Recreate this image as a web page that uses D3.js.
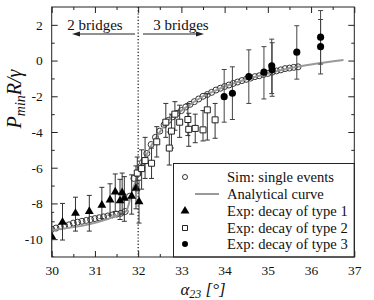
<!DOCTYPE html>
<html><head><meta charset="utf-8">
<script src="https://cdn.jsdelivr.net/npm/d3@7"></script>
<style>body{margin:0;background:#fff} text{font-family:"Liberation Serif","DejaVu Serif",serif;fill:#111}</style>
</head><body><svg id="c" width="374" height="300"></svg>
<script>
// ---- data ----
const xTicks = [30, 31, 32, 33, 34, 35, 36, 37];
const yTicks = [-10, -8, -6, -4, -2, 0, 2];
const xMinor = [30.5, 31.5, 32.5, 33.5, 34.5, 35.5, 36.5];
const yMinor = [-9, -7, -5, -3, -1, 1];

const simX = [30.0,30.1,30.2,30.3,30.4,30.5,30.6,30.7,30.8,30.9,31.0,31.1,31.2,31.3,31.4,31.5,31.6,31.7,31.8,31.9,32.0,32.1,32.2,32.3,32.4,32.5,32.6,32.7,32.8,32.9,33.0,33.1,33.2,33.3,33.4,33.5,33.6,33.7,33.8,33.9,34.0,34.1,34.2,34.3,34.4,34.5,34.6,34.7,34.8,34.9,35.0,35.1,35.2,35.3,35.4,35.5,35.6,35.7];
const simY = [-9.45,-9.38,-9.3,-9.25,-9.2,-9.1,-9.05,-9.0,-8.95,-8.9,-8.85,-8.8,-8.75,-8.7,-8.65,-8.6,-8.55,-8.45,-7.6,-6.6,-6.3,-5.7,-5.2,-4.7,-4.3,-3.95,-3.6,-3.35,-3.15,-2.95,-2.8,-2.6,-2.45,-2.3,-2.15,-2.0,-1.9,-1.78,-1.65,-1.55,-1.45,-1.37,-1.28,-1.2,-1.12,-1.05,-0.98,-0.9,-0.85,-0.78,-0.72,-0.65,-0.58,-0.52,-0.45,-0.42,-0.38,-0.35];

const curveX = [30.0, 31.72, 31.85, 32.0, 32.25, 32.5, 32.7, 33.0, 33.25, 33.5, 33.75, 34.0, 34.5, 35.0, 35.5, 36.0, 36.75];
const curveY = [-9.5, -8.45, -7.4, -6.4, -5.0, -4.0, -3.35, -2.8, -2.38, -2.0, -1.72, -1.45, -1.05, -0.72, -0.43, -0.22, 0.03];

const t1X  = [30.0, 30.25, 30.55, 30.87, 31.16, 31.35, 31.47, 31.58, 31.63, 31.68, 31.85, 31.95, 32.02];
const t1Y  = [-9.85, -9.05, -8.55, -8.45, -8.1, -7.8, -7.35, -7.85, -7.4, -7.7, -7.6, -7.15, -7.9];
const t1Lo = [-11.0, -10.05, -9.55, -9.55, -8.85, -8.65, -8.45, -8.9, -8.6, -9.0, -8.6, -8.3, -9.1];
const t1Hi = [-8.5, -8.0, -7.65, -7.55, -7.1, -6.9, -6.35, -6.65, -6.3, -6.5, -6.4, -5.9, -6.7];

const t2X  = [31.98, 32.08, 32.16, 32.31, 32.43, 32.64, 32.72, 32.77, 32.85, 32.96, 33.15, 33.17, 33.32, 33.5, 33.6, 33.78];
const t2Y  = [-6.3, -6.05, -5.6, -5.75, -4.55, -3.45, -4.9, -3.95, -3.0, -3.45, -3.3, -3.85, -3.8, -3.88, -2.76, -3.32];
const t2Lo = [-7.3, -7.2, -6.6, -6.6, -5.4, -4.3, -5.85, -4.9, -3.9, -4.3, -4.2, -4.8, -4.6, -4.5, -4.45, -4.35];
const t2Hi = [-5.4, -5.0, -4.3, -4.9, -3.7, -2.4, -4.0, -3.0, -2.3, -2.5, -2.4, -2.95, -3.0, -2.8, -1.85, -2.4];

const t3X  = [33.99, 34.18, 34.56, 34.91, 35.09, 35.1, 35.67, 36.22, 36.22];
const t3Y  = [-2.02, -1.83, -0.9, -0.65, -0.3, -0.52, 0.47, 1.31, 0.78];
const t3Lo = [-3.45, -3.3, -2.4, -2.15, -1.85, -2.0, -1.04, -0.2, -0.75];
const t3Hi = [-0.5, -0.35, 0.6, 0.78, 1.2, 1.0, 1.95, 2.8, 2.3];

const legendLabels = ["Sim: single events", "Analytical curve", "Exp: decay of type 1", "Exp: decay of type 2", "Exp: decay of type 3"];

// ---- drawing ----
const svg = d3.select('#c');
const L = 51.7, R = 354.3, T = 7, B = 257;
const x = d3.scaleLinear([30, 37], [L, R]);
const y = d3.scaleLinear([-11, 3], [B, T]);
const ink = '#222';

svg.append('defs').append('clipPath').attr('id', 'clip')
  .append('rect').attr('x', L).attr('y', T).attr('width', R - L).attr('height', B - T);

// axes
function styleAxis(g) { g.select('.domain').remove(); g.selectAll('line').attr('stroke', ink); g.selectAll('text').attr('font-size', 13.5).attr('font-family', '"Liberation Serif",serif').attr('fill', '#111'); }
svg.append('g').attr('transform', `translate(0,${B})`).call(d3.axisBottom(x).tickValues(xTicks).tickSize(-6).tickPadding(8).tickFormat(d => String(d))).call(styleAxis);
svg.append('g').attr('transform', `translate(0,${B})`).call(d3.axisBottom(x).tickValues(xMinor).tickSize(-3).tickFormat('')).call(styleAxis);
svg.append('g').attr('transform', `translate(0,${T})`).call(d3.axisTop(x).tickValues(xTicks).tickSize(-6).tickFormat('')).call(styleAxis);
svg.append('g').attr('transform', `translate(0,${T})`).call(d3.axisTop(x).tickValues(xMinor).tickSize(-3).tickFormat('')).call(styleAxis);
svg.append('g').attr('transform', `translate(${L},0)`).call(d3.axisLeft(y).tickValues(yTicks).tickSize(-6).tickPadding(9).tickFormat(d => String(d))).call(styleAxis);
svg.append('g').attr('transform', `translate(${L},0)`).call(d3.axisLeft(y).tickValues(yMinor).tickSize(-3).tickFormat('')).call(styleAxis);
svg.append('g').attr('transform', `translate(${R},0)`).call(d3.axisRight(y).tickValues(yTicks).tickSize(-6).tickFormat('')).call(styleAxis);
svg.append('g').attr('transform', `translate(${R},0)`).call(d3.axisRight(y).tickValues(yMinor).tickSize(-3).tickFormat('')).call(styleAxis);

// dotted line at 32
svg.append('line').attr('x1', x(32)).attr('x2', x(32)).attr('y1', T).attr('y2', B)
  .attr('stroke', '#111').attr('stroke-width', 1.2).attr('stroke-dasharray', '1.2,2');

// bridges annotation
svg.append('text').attr('x', 95).attr('y', 29.5).attr('text-anchor', 'middle').attr('font-size', 15).text('2 bridges');
svg.append('text').attr('x', 181).attr('y', 29.5).attr('text-anchor', 'middle').attr('font-size', 15).text('3 bridges');
svg.append('line').attr('x1', 135).attr('x2', 78).attr('y1', 34).attr('y2', 34).attr('stroke', ink).attr('stroke-width', 1);
svg.append('path').attr('d', 'M72,34 L80,31.5 L80,36.5 Z').attr('fill', ink);
svg.append('line').attr('x1', 143).attr('x2', 198).attr('y1', 34).attr('y2', 34).attr('stroke', ink).attr('stroke-width', 1);
svg.append('path').attr('d', 'M204,34 L196,31.5 L196,36.5 Z').attr('fill', ink);

const plot = svg.append('g').attr('clip-path', 'url(#clip)');

// sim circles
const sim = simX.map((v, i) => ({x: v, y: simY[i]}));
plot.append('g').selectAll('circle').data(sim).join('circle')
  .attr('cx', d => x(d.x)).attr('cy', d => y(d.y)).attr('r', 3)
  .attr('fill', 'none').attr('stroke', '#333').attr('stroke-width', 1);

// analytical curve
const curve = curveX.map((v, i) => ({x: v, y: curveY[i]}));
plot.append('path').datum(curve)
  .attr('d', d3.line().x(d => x(d.x)).y(d => y(d.y)).curve(d3.curveMonotoneX))
  .attr('fill', 'none').attr('stroke', '#999').attr('stroke-width', 2);

function errSeries(xs, ys, lo, hi, shape, barColor) {
  const data = xs.map((v, i) => ({x: v, y: ys[i], lo: lo[i], hi: hi[i]}));
  const g = plot.append('g');
  const eb = g.selectAll('g.eb').data(data).join('g');
  eb.append('line').attr('x1', d => x(d.x)).attr('x2', d => x(d.x)).attr('y1', d => y(d.lo)).attr('y2', d => y(d.hi)).attr('stroke', barColor).attr('stroke-width', 1);
  eb.append('line').attr('x1', d => x(d.x) - 2.5).attr('x2', d => x(d.x) + 2.5).attr('y1', d => y(d.lo)).attr('y2', d => y(d.lo)).attr('stroke', barColor);
  eb.append('line').attr('x1', d => x(d.x) - 2.5).attr('x2', d => x(d.x) + 2.5).attr('y1', d => y(d.hi)).attr('y2', d => y(d.hi)).attr('stroke', barColor);
  g.selectAll('path.m').data(data).join('path').attr('class', 'm')
    .attr('transform', d => `translate(${x(d.x)},${y(d.y)})`)
    .each(function () { shape(d3.select(this)); });
}
const triShape = s => s.attr('d', d3.symbol(d3.symbolTriangle, 34)()).attr('fill', '#000');
const sqShape = s => s.attr('d', 'M-3,-3H3V3H-3Z').attr('fill', '#fff').attr('stroke', '#222').attr('stroke-width', 1);
const dotShape = s => s.attr('d', d3.symbol(d3.symbolCircle, 40)()).attr('fill', '#000');

errSeries(t1X, t1Y, t1Lo, t1Hi, triShape, '#333');
errSeries(t2X, t2Y, t2Lo, t2Hi, sqShape, '#333');
errSeries(t3X, t3Y, t3Lo, t3Hi, dotShape, '#444');

// legend
const lg = svg.append('g');
lg.append('rect').attr('x', 173.5).attr('y', 163.5).attr('width', R - 173.5).attr('height', B - 163.5)
  .attr('fill', '#fff').attr('stroke', ink).attr('stroke-width', 1);
const rowY = [177, 194, 211, 228, 244];
lg.selectAll('text.l').data(legendLabels).join('text').attr('class', 'l')
  .attr('x', 227).attr('y', (d, i) => rowY[i] + 4.8).attr('font-size', 14.6).text(d => d);
lg.append('circle').attr('cx', 185).attr('cy', rowY[0]).attr('r', 2.5).attr('fill', 'none').attr('stroke', '#333');
lg.append('line').attr('x1', 195).attr('x2', 219).attr('y1', rowY[1]).attr('y2', rowY[1]).attr('stroke', '#999').attr('stroke-width', 2);
triShape(lg.append('path').attr('transform', `translate(185,${rowY[2]})`));
lg.append('path').attr('transform', `translate(185,${rowY[3]})`).attr('d', 'M-2.5,-2.5H2.5V2.5H-2.5Z').attr('fill', '#fff').attr('stroke', '#222');
lg.append('circle').attr('cx', 185).attr('cy', rowY[4]).attr('r', 3).attr('fill', '#000');

// frame
svg.append('rect').attr('x', L).attr('y', T).attr('width', R - L).attr('height', B - T)
  .attr('fill', 'none').attr('stroke', ink).attr('stroke-width', 1);

// axis titles
const xl = svg.append('text').attr('x', 203).attr('y', 295).attr('text-anchor', 'middle')
  .attr('font-size', 17).attr('font-style', 'italic');
xl.append('tspan').text('α');
xl.append('tspan').attr('font-size', 12).attr('dy', 3).text('23');
xl.append('tspan').attr('dy', -3).text(' [°]');

const yl = svg.append('text').attr('transform', 'translate(21,99) rotate(-90)').attr('text-anchor', 'middle')
  .attr('font-size', 20).attr('font-style', 'italic');
yl.append('tspan').text('P');
yl.append('tspan').attr('font-size', 14).attr('dy', 4).text('min');
yl.append('tspan').attr('dy', -4).text('R/γ');
</script></body></html>
